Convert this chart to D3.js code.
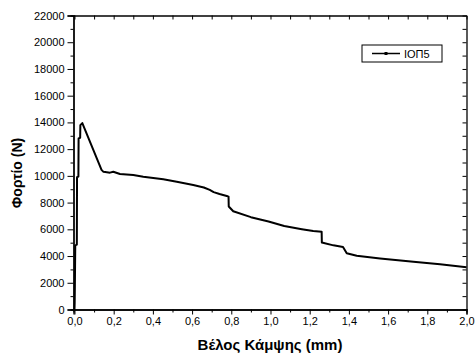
<!DOCTYPE html>
<html><head><meta charset="utf-8">
<script src="https://cdn.jsdelivr.net/npm/d3@7"></script>
<style>body{margin:0;background:#fff}svg{display:block}</style>
</head><body>
<svg id="c" width="476" height="356"></svg>
<script>
const seriesName = "ΙΟΠ5";
const xTitle = "Βέλος Κάμψης (mm)";
const yTitle = "Φορτίο (N)";
const xTicks = [0,0.2,0.4,0.6,0.8,1.0,1.2,1.4,1.6,1.8,2.0];
const xMinorTicks = [0.1,0.3,0.5,0.7,0.9,1.1,1.3,1.5,1.7,1.9];
const yTicks = [0,2000,4000,6000,8000,10000,12000,14000,16000,18000,20000,22000];
const yMinorTicks = [1000,3000,5000,7000,9000,11000,13000,15000,17000,19000,21000];
const deflection = [0,0.001,0.002,0.003,0.004,0.012,0.013,0.020,0.021,0.029,0.030,0.040,0.138,0.148,0.165,0.181,0.198,0.232,0.300,0.351,0.453,0.522,0.606,0.660,0.690,0.710,0.740,0.777,0.786,0.787,0.810,0.900,0.990,1.070,1.160,1.218,1.261,1.262,1.321,1.370,1.389,1.440,1.559,1.729,1.865,2.0];
const load = [0,500,1800,3300,4800,4850,9900,9950,12800,12850,13800,13950,10450,10300,10270,10240,10310,10140,10060,9940,9740,9560,9320,9130,8950,8780,8640,8500,8450,7710,7350,6910,6590,6250,6010,5870,5820,5010,4800,4680,4210,4020,3820,3580,3380,3170];

const L = 73.5, R = 466.5, T = 15.5, B = 309.5;
const svg = d3.select("#c");
const x = d3.scaleLinear().domain([-0.005, 2.0]).range([L, R]);
const y = d3.scaleLinear().domain([0, 22000]).range([B, T]);
const font = "'Liberation Sans', Arial, sans-serif";
const fmtX = d => d3.format(".1f")(d).replace(".", ",");

function styleAxis(g){
  g.selectAll("path.domain").attr("stroke","#000").attr("stroke-width",1.3);
  g.selectAll(".tick line").attr("stroke","#000").attr("stroke-width",1);
  g.selectAll("text").attr("font-family",font).attr("font-size",11).attr("fill","#000");
}
// bottom
svg.append("g").attr("transform",`translate(0,${B})`)
  .call(d3.axisBottom(x).tickValues(xMinorTicks).tickSize(3).tickFormat("")).call(styleAxis);
svg.append("g").attr("transform",`translate(0,${B})`)
  .call(d3.axisBottom(x).tickValues(xTicks).tickSize(5).tickPadding(3).tickFormat(fmtX)).call(styleAxis);
// left
svg.append("g").attr("transform",`translate(${L},0)`)
  .call(d3.axisLeft(y).tickValues(yMinorTicks).tickSize(3).tickFormat("")).call(styleAxis);
svg.append("g").attr("transform",`translate(${L},0)`)
  .call(d3.axisLeft(y).tickValues(yTicks).tickSize(6).tickPadding(3).tickFormat(d3.format("d"))).call(styleAxis);
// top (inward)
svg.append("g").attr("transform",`translate(0,${T})`)
  .call(d3.axisTop(x).tickValues(xTicks.concat(xMinorTicks)).tickSizeInner(-4).tickSizeOuter(0).tickFormat("")).call(styleAxis);
// right (inward)
svg.append("g").attr("transform",`translate(${R},0)`)
  .call(d3.axisRight(y).tickValues(yTicks.concat(yMinorTicks)).tickSizeInner(-4).tickSizeOuter(0).tickFormat("")).call(styleAxis);

// data line
const pts = deflection.map((d,i)=>[d, load[i]]);
svg.append("path").datum(pts)
  .attr("fill","none").attr("stroke","#000").attr("stroke-width",2).attr("stroke-linejoin","round")
  .attr("d", d3.line().x(d=>x(d[0])).y(d=>y(d[1])));

// titles
svg.append("text").attr("x",(L+R)/2).attr("y",350).attr("text-anchor","middle")
  .attr("font-family",font).attr("font-weight","bold").attr("font-size",15).text(xTitle);
svg.append("text").attr("transform",`translate(22,173) rotate(-90)`).attr("text-anchor","middle")
  .attr("font-family",font).attr("font-weight","bold").attr("font-size",14).text(yTitle);

// legend
const lg = svg.append("g").attr("transform","translate(362,45)");
lg.append("rect").attr("width",80).attr("height",17).attr("fill","#fff").attr("stroke","#000").attr("stroke-width",1);
lg.append("line").attr("x1",10).attr("x2",38).attr("y1",8.5).attr("y2",8.5).attr("stroke","#000").attr("stroke-width",1.5);
lg.append("rect").attr("x",22.5).attr("y",7).attr("width",3).attr("height",3).attr("fill","#000");
lg.append("text").attr("x",42).attr("y",12.5).attr("font-family",font).attr("font-size",11).text(seriesName);
</script>
</body></html>
